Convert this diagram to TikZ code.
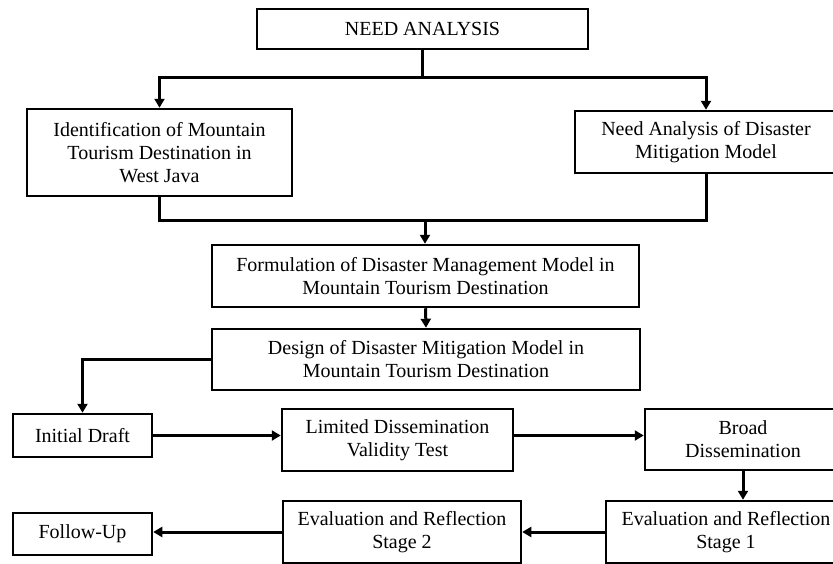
\documentclass[tikz,border=0pt]{standalone}
\usepackage{fontspec}
\setmainfont{Liberation Serif}
\usetikzlibrary{arrows.meta}

\begin{document}
\begin{tikzpicture}[
    x=1pt, y=-1pt,
    box/.style={rectangle, draw, line width=2.5pt, inner sep=0pt, align=center, font=\fontsize{20}{23}\selectfont},
    arrow/.style={-{Triangle[width=10pt,length=9pt]}, line width=3pt},
    link/.style={line width=3pt}
]
    \useasboundingbox (0,0) rectangle (833,563);
    \clip (0,0) rectangle (833,563);

    % Kaesten
    \node[box, minimum width=331, minimum height=40] (need) at (422.5,29) {NEED ANALYSIS};
    \node[box, minimum width=265, minimum height=87] (ident) at (159.5,152.5) {Identification of Mountain\\Tourism Destination in\\West Java};
    \node[box, minimum width=262, minimum height=62] (model) at (706,142) {Need Analysis of Disaster\\Mitigation Model};
    \node[box, minimum width=427, minimum height=62] (formulation) at (425.5,276) {Formulation of Disaster Management Model in\\Mountain Tourism Destination};
    \node[box, minimum width=428, minimum height=61] (design) at (426,359.5) {Design of Disaster Mitigation Model in\\Mountain Tourism Destination};
    \node[box, minimum width=139, minimum height=43] (draft) at (82.5,435.5) {Initial Draft};
    \node[box, minimum width=231, minimum height=62] (limited) at (397.5,440) {Limited Dissemination\\Validity Test};
    \node[box, minimum width=196, minimum height=61] (broad) at (743,439.5) {Broad\\Dissemination};
    \node[box, minimum width=240, minimum height=62] (evalone) at (726,532) {Evaluation and Reflection\\Stage 1};
    \node[box, minimum width=238, minimum height=62] (evaltwo) at (402,532) {Evaluation and Reflection\\Stage 2};
    \node[box, minimum width=139, minimum height=42] (follow) at (82.5,534) {Follow-Up};

    % Verzweigung oben
    \coordinate (split) at (422.5,77);
    \draw[link] (need.south) -- (split);
    \draw[arrow] (split) -| (ident.north);
    \draw[arrow] (split) -| (model.north);

    % Zusammenfuehrung
    \coordinate (join) at (425,220);
    \draw[link] (ident.south) |- (join);
    \draw[link] (model.south) |- (join);
    \draw[arrow] (join) -- (join |- formulation.north);
    \draw[arrow] (formulation.south) -- (design.north);

    % Ablauf unten
    \draw[arrow] (design.west) -| (draft.north);
    \draw[arrow] (draft.east) -- (draft.east -| limited.west);
    \draw[arrow] (limited.east |- draft.east) -- (broad.west |- draft.east);
    \draw[arrow] (broad.south) -- (broad.south |- evalone.north);
    \draw[arrow] (evalone.west) -- (evaltwo.east);
    \draw[arrow] (evaltwo.west) -- (evaltwo.west -| follow.east);
\end{tikzpicture}
\end{document}
